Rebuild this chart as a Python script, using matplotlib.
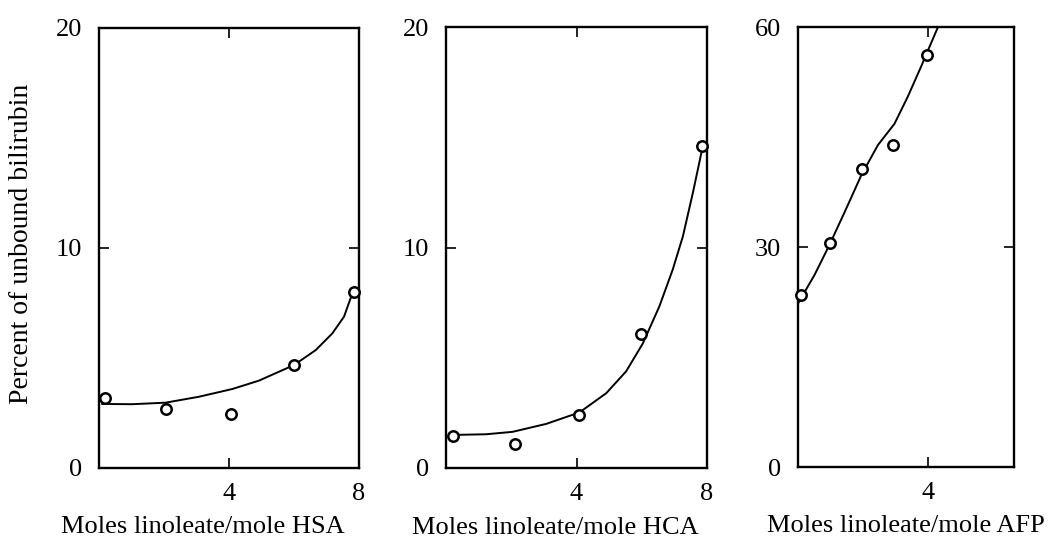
import matplotlib
matplotlib.use("Agg")
import matplotlib.pyplot as plt

plt.rcParams['font.family'] = ['Liberation Serif', 'DejaVu Serif']

# HSA panel
hsa_x = [0.18, 2.05, 4.05, 6.0, 7.85]
hsa_y = [3.17, 2.67, 2.44, 4.70, 7.98]
hsa_fit_x = [0.1, 1.03, 2.05, 3.08, 4.1, 4.92, 6.0, 6.67, 7.18, 7.54, 7.74, 7.85]
hsa_fit_y = [2.91, 2.9, 2.97, 3.24, 3.59, 3.97, 4.68, 5.36, 6.12, 6.88, 7.71, 8.0]

# HCA panel
hca_x = [0.2, 2.1, 4.09, 5.98, 7.85]
hca_y = [1.45, 1.09, 2.41, 6.07, 14.6]
hca_fit_x = [0.2, 1.23, 2.04, 3.07, 4.09, 4.91, 5.52, 6.03, 6.54, 6.95, 7.26, 7.57, 7.85]
hca_fit_y = [1.5, 1.53, 1.64, 2.0, 2.52, 3.39, 4.38, 5.64, 7.33, 9.0, 10.5, 12.5, 14.45]

# AFP panel
afp_x = [0.1, 0.97, 1.97, 2.92, 3.98]
afp_y = [23.4, 30.5, 40.6, 43.9, 56.2]
afp_fit_x = [0.0, 0.51, 0.97, 1.44, 1.95, 2.46, 2.97, 3.38, 3.79, 4.0, 4.31]
afp_fit_y = [22.3, 26.2, 30.3, 34.8, 39.8, 43.9, 46.8, 50.5, 54.6, 56.8, 60.0]

panels = [
    # (data x, data y, fit x, fit y, xmax, ymax, xticks, yticks, label, label pos, box px)
    (hsa_x, hsa_y, hsa_fit_x, hsa_fit_y, 8.0, 20, [4, 8], [0, 10, 20],
     'Moles linoleate/mole HSA', 0.40, (99, 28, 359, 468)),
    (hca_x, hca_y, hca_fit_x, hca_fit_y, 8.0, 20, [4, 8], [0, 10, 20],
     'Moles linoleate/mole HCA', 0.42, (446, 27, 707, 468)),
    (afp_x, afp_y, afp_fit_x, afp_fit_y, 6.65, 60, [4], [0, 30, 60],
     'Moles linoleate/mole AFP', 0.5, (798, 27, 1014, 467)),
]

W, H = 1048, 552
fig = plt.figure(figsize=(W / 100, H / 100), dpi=100)

for px, py, fx, fy, xmax, ymax, xt, yt, lab, lx, box in panels:
    l, t, r, b = box
    ax = fig.add_axes([l / W, 1 - b / H, (r - l) / W, (b - t) / H])
    ax.plot(fx, fy, color='black', lw=1.4, solid_joinstyle='round')
    ax.plot(px, py, 'o', ms=7.5, mfc='white', mec='black', mew=1.8, clip_on=False, zorder=3)
    ax.set_xlim(0, xmax)
    ax.set_ylim(0, ymax)
    ax.set_xticks(xt)
    ax.set_yticks(yt)
    ax.tick_params(direction='in', top=True, right=True, length=7, width=1.2,
                   labelsize=19)
    ax.tick_params(axis='x', pad=11)
    ax.tick_params(axis='y', pad=12)
    for s in ax.spines.values():
        s.set_linewidth(1.7)
    ax.set_xlabel(lab, fontsize=19)
    ax.xaxis.set_label_coords(lx, -0.11)

fig.text(22 / W, 1 - 244 / H, 'Percent of unbound bilirubin', rotation=90,
         fontsize=20, ha='center', va='center')

fig.savefig('out.png', dpi=100)
